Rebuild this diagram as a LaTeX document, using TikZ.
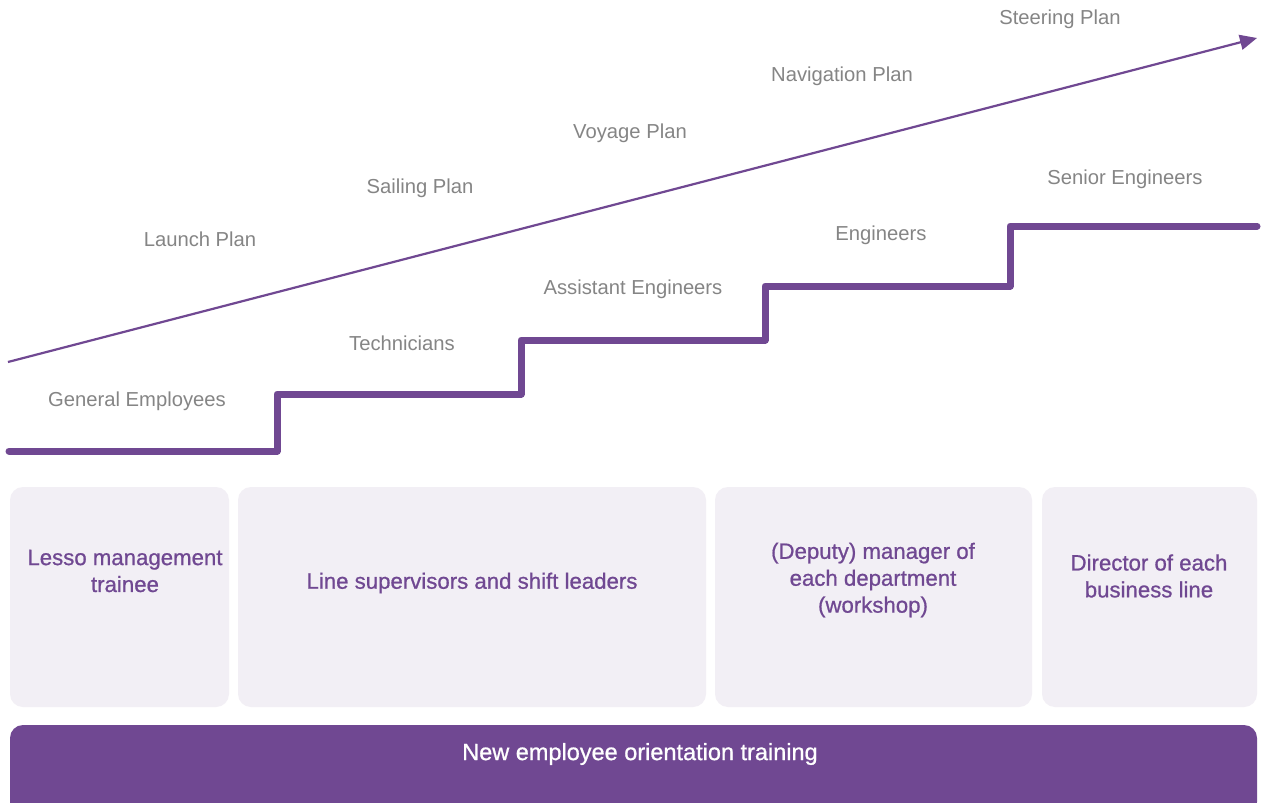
\documentclass[tikz,border=0pt]{standalone}
\usepackage{fontspec}
\setmainfont{Liberation Sans}
\newfontfamily\semib{Liberation Sans}[FakeBold=0.8]
\usetikzlibrary{arrows.meta}
\definecolor{lpurple}{HTML}{704892}
\definecolor{lgray}{HTML}{858585}
\definecolor{boxfill}{HTML}{F2EFF5}
\begin{document}
\begin{tikzpicture}[x=1bp,y=-1bp,
  lvl/.style={text=lgray,font=\fontsize{20.3}{24}\selectfont,inner sep=0pt},
  boxtxt/.style={text=lpurple,font=\semib\fontsize{22.3}{27}\selectfont,align=center,inner sep=0pt},
  card/.style={fill=boxfill,rounded corners=13bp},
  stair/.style={draw=lpurple,line width=7bp,line cap=round,line join=round},
  growth/.style={draw=lpurple,line width=2.2bp,-{Triangle[length=17bp,width=15bp]}}]
\clip (0,0) rectangle (1262,803);
\useasboundingbox (0,0) rectangle (1262,803);
\fill[white] (0,0) rectangle (1262,803);
% growth arrow
\coordinate (ga) at (8,362);
\coordinate (gb) at (1257,38);
\draw[growth] (ga) -- (gb);
% staircase
\coordinate (s0) at (9,451);
\coordinate (s1) at (277,451);
\coordinate (s2) at (277,394);
\coordinate (s3) at (521,394);
\coordinate (s4) at (521,340);
\coordinate (s5) at (765,340);
\coordinate (s6) at (765,286);
\coordinate (s7) at (1010,286);
\coordinate (s8) at (1010,226);
\coordinate (s9) at (1257,226);
\draw[stair] (s0) -- (s1) -- (s2) -- (s3) -- (s4) -- (s5) -- (s6) -- (s7) -- (s8) -- (s9);
% plan labels
\node[lvl] (p5) at (1060,19) {Steering Plan};
\node[lvl] (p4) at (842,76) {Navigation Plan};
\node[lvl] (p3) at (630,133) {Voyage Plan};
\node[lvl] (p2) at (420,188) {Sailing Plan};
\node[lvl] (p1) at (200,239) {Launch Plan};
% level labels
\node[lvl] (l1) at (137,401) {General Employees};
\node[lvl] (l2) at (402,343) {Technicians};
\node[lvl] (l3) at (633,289) {Assistant Engineers};
\node[lvl] (l4) at (881,235) {Engineers};
\node[lvl] (l5) at (1125,179) {Senior Engineers};
% cards
\fill[card] (10,487) rectangle (229,707);
\fill[card] (238,487) rectangle (706,707);
\fill[card] (715,487) rectangle (1032,707);
\fill[card] (1042,487) rectangle (1257,707);
\node[boxtxt] (c1) at (125,571) {Lesso management\\trainee};
\node[boxtxt] (c2) at (472,583) {Line supervisors and shift leaders};
\node[boxtxt] (c3) at (873,580) {(Deputy) manager of\\each department\\(workshop)};
\node[boxtxt] (c4) at (1149,576) {Director of each\\business line};
% bottom bar
\fill[lpurple,rounded corners=13bp] (10,725) rectangle (1257,815);
\node[text=white,font=\semib\fontsize{23.6}{26}\selectfont,inner sep=0pt] (bar) at (640,754) {New employee orientation training};
\end{tikzpicture}
\end{document}
